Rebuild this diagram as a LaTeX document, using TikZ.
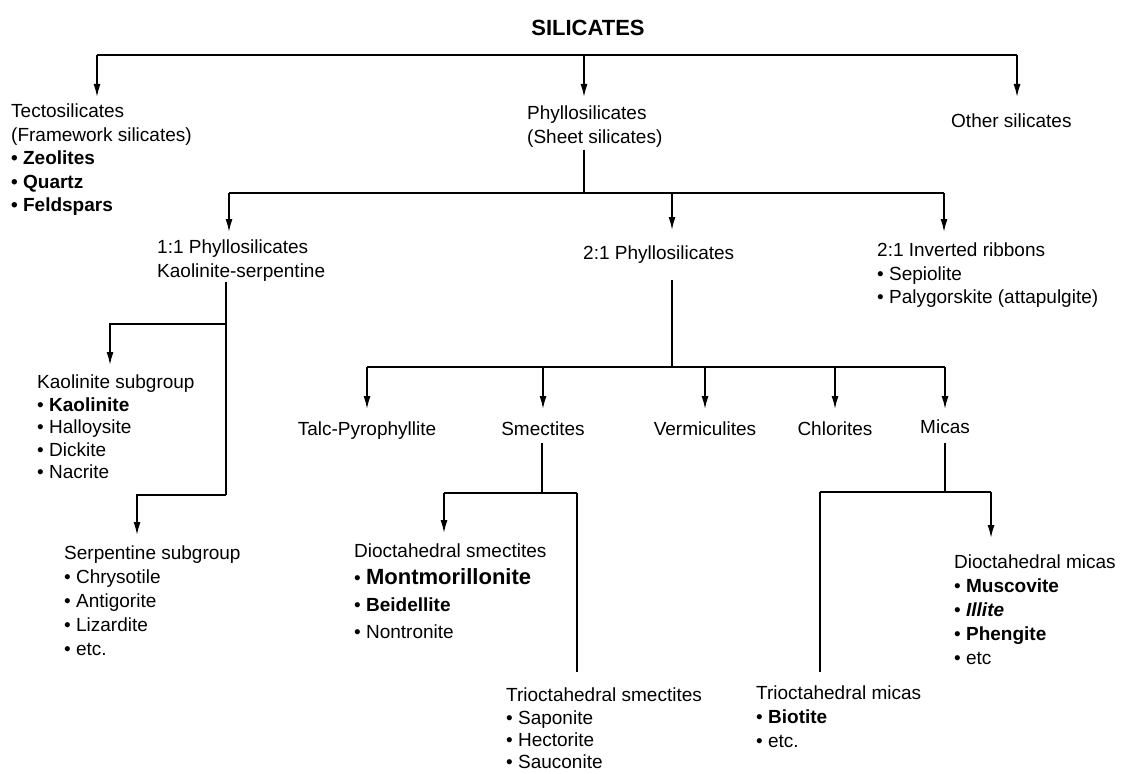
\documentclass[tikz,border=0pt]{standalone}
\usepackage{fontspec}
\setmainfont{Liberation Sans}
\usetikzlibrary{arrows.meta}
\begin{document}
\begin{tikzpicture}[x=1pt,y=-1pt,
  txt/.style={inner sep=0pt, align=left, font=\fontsize{19}{23.5}\selectfont, anchor=north west},
  ctr/.style={inner sep=0pt, font=\fontsize{19}{23.5}\selectfont, anchor=north},
  ln/.style={line width=1.5pt, black},
  arr/.style={ln, -{Latex[length=13pt,width=7pt]}},
  tipgap/.style={shorten >=#1},
  tailgap/.style={shorten <=#1}]
\useasboundingbox (0,0) rectangle (1123,773);
% nodes
\node[inner sep=0pt, font=\bfseries\fontsize{22}{26}\selectfont] (sil) at (588,28) {SILICATES};
\node[txt] (tecto) at (11,104) {Tectosilicates\\(Framework silicates)\\\textbf{• Zeolites}\\\textbf{• Quartz}\\\textbf{• Feldspars}};
\node[txt] (phyl) at (527,106) {Phyllosilicates\\(Sheet silicates)};
\node[txt] (other) at (951,114) {Other silicates};
\node[txt] (p11) at (157,240) {1:1 Phyllosilicates\\Kaolinite-serpentine};
\node[txt] (p21) at (583,246) {2:1 Phyllosilicates};
\node[txt] (inv) at (877,243) {2:1 Inverted ribbons\\• Sepiolite\\• Palygorskite (attapulgite)};
\node[txt, font=\fontsize{19}{22.5}\selectfont] (kao) at (37,375) {Kaolinite subgroup\\• \textbf{Kaolinite}\\• Halloysite\\• Dickite\\• Nacrite};
\node[txt, font=\fontsize{19}{24}\selectfont] (serp) at (64,546) {Serpentine subgroup\\• Chrysotile\\• Antigorite\\• Lizardite\\• etc.};
\node[ctr] (talc) at (367,422) {Talc-Pyrophyllite};
\node[ctr] (smec) at (543,422) {Smectites};
\node[ctr] (verm) at (705,422) {Vermiculites};
\node[ctr] (chlo) at (835,422) {Chlorites};
\node[ctr] (mica) at (945,420) {Micas};
\node[txt] (dsm) at (354,544) {Dioctahedral smectites\\[3.5pt]• {\bfseries\fontsize{22}{23.5}\selectfont Montmorillonite}\\[3.5pt]• \textbf{Beidellite}\\[3pt]• Nontronite};
\node[txt, font=\fontsize{19}{22.3}\selectfont] (tsm) at (506,688) {Trioctahedral smectites\\• Saponite\\• Hectorite\\• Sauconite};
\node[txt, font=\fontsize{19}{24}\selectfont] (dmi) at (954,555) {Dioctahedral micas\\• \textbf{Muscovite}\\• \textbf{\itshape Illite}\\• \textbf{Phengite}\\• etc};
\node[txt, font=\fontsize{19}{24}\selectfont] (tmi) at (756,686) {Trioctahedral micas\\• \textbf{Biotite}\\• etc.};
% level 1
\coordinate (j0) at (584,55);
\coordinate (j0l) at (97,55);
\coordinate (j0r) at (1017,55);
\draw[ln] (j0l) -- (j0r);
\draw[arr, tipgap=7pt] (j0l) -- (j0l |- tecto.north);
\draw[arr, tipgap=9pt] (j0) -- (j0 |- phyl.north);
\draw[arr, tipgap=17pt] (j0r) -- (j0r |- other.north);
% level 2
\coordinate (j1) at (584,193);
\coordinate (j1l) at (229,193);
\coordinate (j1m) at (672,193);
\coordinate (j1r) at (944,193);
\draw[ln, tailgap=2pt] (phyl.south -| j1) -- (j1);
\draw[ln] (j1l) -- (j1r);
\draw[arr, tipgap=8pt] (j1l) -- (j1l |- p11.north);
\draw[arr, tipgap=16pt] (j1m) -- (j1m |- p21.north);
\draw[arr, tipgap=11pt] (j1r) -- (j1r |- inv.north);
% 1:1 branch
\coordinate (k1) at (226,324);
\coordinate (k2) at (226,495);
\coordinate (k1l) at (110,324);
\coordinate (k2l) at (137,495);
\draw[ln] (p11.south -| k1) -- (k2);
\draw[arr, tipgap=10pt] (k1) -- (k1l) -- (k1l |- kao.north);
\draw[arr, tipgap=11pt] (k2) -- (k2l) -- (k2l |- serp.north);
% 2:1 branch
\coordinate (j2) at (672,367);
\coordinate (j2l) at (367,367);
\coordinate (j2r) at (945,367);
\draw[ln, tailgap=16pt] (p21.south -| j2) -- (j2);
\draw[ln] (j2l) -- (j2r);
\draw[arr, tipgap=13pt] (j2l) -- (talc.north);
\draw[arr, tipgap=13pt] (smec.north |- j2) -- (smec.north);
\draw[arr, tipgap=13pt] (verm.north |- j2) -- (verm.north);
\draw[arr, tipgap=13pt] (chlo.north |- j2) -- (chlo.north);
\draw[arr, tipgap=11pt] (mica.north |- j2) -- (mica.north);
% smectites
\coordinate (s1) at (542,493);
\coordinate (s1l) at (444,493);
\coordinate (s1r) at (577,493);
\draw[ln, tailgap=7pt] (smec.south -| s1) -- (s1);
\draw[ln] (s1l) -- (s1r);
\draw[arr, tipgap=11pt] (s1l) -- (s1l |- dsm.north);
\draw[ln, shorten >=16pt] (s1r) -- (s1r |- tsm.north);
% micas
\coordinate (m1) at (945,492);
\coordinate (m1l) at (820,492);
\coordinate (m1r) at (991,492);
\draw[ln, tailgap=9pt] (mica.south) -- (m1);
\draw[ln] (m1l) -- (m1r);
\draw[arr, tipgap=17pt] (m1r) -- (m1r |- dmi.north);
\draw[ln, shorten >=14pt] (m1l) -- (m1l |- tmi.north);
\end{tikzpicture}
\end{document}
